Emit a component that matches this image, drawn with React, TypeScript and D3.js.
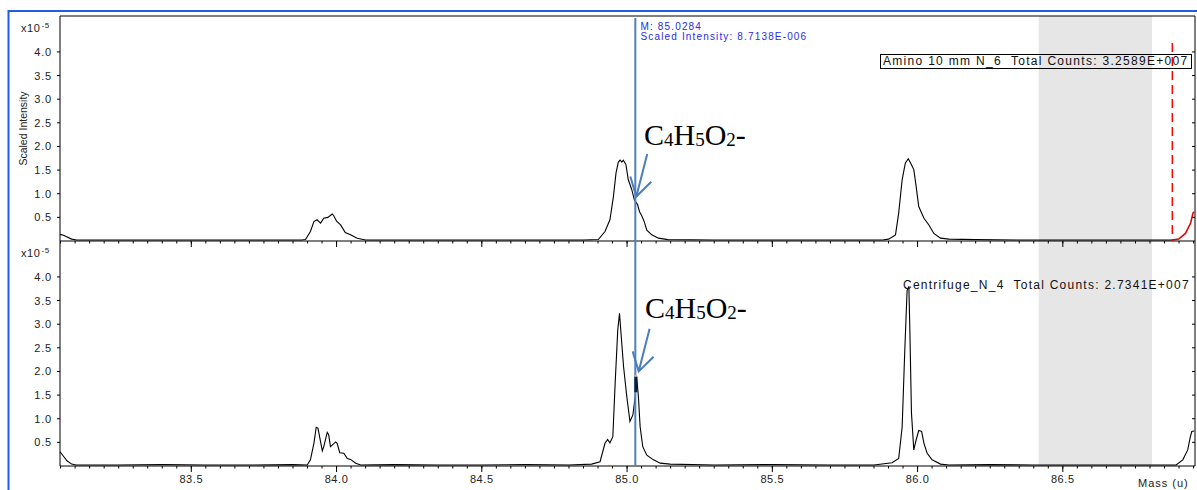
import React from 'react';
import * as d3 from 'd3';

// tick labels
const massTicks = [83.5, 84.0, 84.5, 85.0, 85.5, 86.0, 86.5];
const intensityTicks = [0.5, 1.0, 1.5, 2.0, 2.5, 3.0, 3.5, 4.0];

// [mass (u), scaled intensity x10^-5]
const aminoSpectrum: [number, number][] = [
  [83.048, 0.14], [83.06, 0.12], [83.071, 0.09], [83.088, 0.04], [83.105, 0.02], [83.2, 0.02],
  [83.35, 0.02], [83.5, 0.02], [83.65, 0.02], [83.8, 0.02], [83.88, 0.02], [83.893, 0.03],
  [83.91, 0.2], [83.922, 0.41], [83.933, 0.45], [83.945, 0.38], [83.956, 0.48], [83.97, 0.5],
  [83.985, 0.57], [83.99, 0.54], [84.0, 0.42], [84.014, 0.34], [84.03, 0.18], [84.048, 0.13],
  [84.071, 0.06], [84.1, 0.02], [84.25, 0.02], [84.4, 0.02], [84.55, 0.02], [84.7, 0.02],
  [84.85, 0.02], [84.901, 0.03], [84.924, 0.2], [84.941, 0.45], [84.953, 0.94], [84.962, 1.44],
  [84.97, 1.67], [84.976, 1.71], [84.982, 1.67], [84.987, 1.71], [84.996, 1.62], [85.004, 1.3],
  [85.016, 1.09], [85.025, 0.87], [85.036, 0.77], [85.043, 0.62], [85.051, 0.53], [85.059, 0.41],
  [85.068, 0.23], [85.085, 0.13], [85.108, 0.06], [85.14, 0.03], [85.3, 0.02], [85.5, 0.02],
  [85.7, 0.02], [85.88, 0.02], [85.9, 0.04], [85.924, 0.13], [85.935, 0.59], [85.947, 1.3],
  [85.958, 1.65], [85.968, 1.74], [85.976, 1.65], [85.987, 1.51], [85.995, 1.16], [86.004, 0.73],
  [86.022, 0.48], [86.039, 0.34], [86.056, 0.16], [86.079, 0.06], [86.108, 0.04], [86.2, 0.03],
  [86.35, 0.02], [86.5, 0.02], [86.65, 0.02], [86.8, 0.02], [86.877, 0.02], [86.899, 0.04],
  [86.922, 0.16], [86.94, 0.38], [86.948, 0.59], [86.952, 0.62],
];

const centrifugeSpectrum: [number, number][] = [
  [83.048, 0.3], [83.052, 0.27], [83.062, 0.19], [83.072, 0.11], [83.088, 0.04], [83.103, 0.02],
  [83.25, 0.02], [83.4, 0.03], [83.55, 0.02], [83.7, 0.02], [83.85, 0.03], [83.899, 0.02],
  [83.91, 0.13], [83.922, 0.48], [83.93, 0.82], [83.936, 0.8], [83.945, 0.51], [83.951, 0.32],
  [83.956, 0.41], [83.968, 0.71], [83.973, 0.66], [83.979, 0.41], [83.985, 0.44], [83.997, 0.51],
  [84.002, 0.48], [84.011, 0.28], [84.025, 0.27], [84.037, 0.16], [84.048, 0.14], [84.066, 0.06],
  [84.083, 0.02], [84.2, 0.03], [84.35, 0.02], [84.5, 0.02], [84.65, 0.03], [84.8, 0.02],
  [84.878, 0.04], [84.907, 0.09], [84.924, 0.48], [84.933, 0.56], [84.941, 0.49], [84.951, 0.62],
  [84.959, 1.75], [84.968, 2.88], [84.974, 3.23], [84.98, 2.74], [84.988, 2.1], [84.999, 1.47],
  [85.01, 0.94], [85.02, 1.08], [85.028, 1.47], [85.033, 1.89], [85.039, 1.47], [85.045, 0.83],
  [85.054, 0.41], [85.068, 0.23], [85.091, 0.13], [85.114, 0.06], [85.148, 0.04], [85.3, 0.02],
  [85.5, 0.03], [85.7, 0.02], [85.85, 0.02], [85.912, 0.07], [85.935, 0.16], [85.947, 0.83],
  [85.956, 2.45], [85.964, 3.72], [85.97, 3.8], [85.973, 3.02], [85.979, 1.12], [85.987, 0.34],
  [85.995, 0.55], [86.004, 0.75], [86.014, 0.73], [86.022, 0.48], [86.033, 0.27], [86.05, 0.13],
  [86.079, 0.04], [86.108, 0.02], [86.25, 0.03], [86.4, 0.02], [86.55, 0.02], [86.7, 0.02],
  [86.85, 0.02], [86.89, 0.02], [86.913, 0.13], [86.93, 0.34], [86.939, 0.62], [86.944, 0.73],
  [86.952, 0.74],
];

const markerMass = 85.0284;
const markerText = ['M: 85.0284', 'Scaled Intensity: 8.7138E-006'];
const highlightRange = [1.56, 1.89]; // selected peak segment, bottom panel
const excludedRange = [86.417, 86.807];
const cursorMass = 86.877;
const aminoLabel = 'Amino 10 mm N_6  Total Counts: 3.2589E+007';
const centrifugeLabel = 'Centrifuge_N_4  Total Counts: 2.7341E+007';
const arrowTargets = [0.94, 2.0]; // intensity the arrow points at, per panel

const W = 1197, H = 490;
const left = 60, right = 1195;
const topY = 16, midY = 241, botY = 466;
const uiFont = '"Liberation Sans", Arial, sans-serif';

const x = d3.scaleLinear().domain([83.048, 86.955]).range([left, right]);
const yTop = d3.scaleLinear().domain([0, 4.76]).range([midY, topY]);
const yBot = d3.scaleLinear().domain([0, 4.76]).range([botY, midY]);
const minorTicks = d3.range(1661, 1740).map(i => i / 20);

const Formula = ({ px, py }: { px: number; py: number }) => (
  <text x={px} y={py} fontFamily='"Liberation Serif", "Times New Roman", serif' fontSize={30} fill="#000">
    C<tspan fontSize={19} dy={1}>4</tspan>
    <tspan dy={-1}>H</tspan><tspan fontSize={19} dy={1}>5</tspan>
    <tspan dy={-1}>O</tspan><tspan fontSize={19} dy={1}>2</tspan>
    <tspan dy={-1}>-</tspan>
  </text>
);

// open arrow, shaft coming from upper right
const Arrow = ({ tx, ty }: { tx: number; ty: number }) => {
  const ang = Math.atan2(-43, 11);
  const len = 44, wing = 21, spread = (31 * Math.PI) / 180;
  const pt = (a: number, l: number) => [tx + l * Math.cos(a), ty + l * Math.sin(a)];
  const [sx, sy] = pt(ang, len);
  const [w1x, w1y] = pt(ang + spread, wing);
  const [w2x, w2y] = pt(ang - spread, wing);
  return (
    <path d={`M${sx},${sy}L${tx},${ty}M${w1x},${w1y}L${tx},${ty}L${w2x},${w2y}`}
      fill="none" stroke="#4a7ebb" strokeWidth={2} />
  );
};

const Panel = ({ y, data, redFrom }: { y: d3.ScaleLinear<number, number>; data: [number, number][]; redFrom?: number }) => {
  const line = d3.line<[number, number]>().x(d => x(d[0])).y(d => y(d[1]));
  const black = redFrom ? data.filter(d => d[0] <= redFrom) : data;
  const red = redFrom ? data.filter(d => d[0] >= redFrom) : [];
  const base = y(0);
  return (
    <g>
      {/* y ticks left and right */}
      {intensityTicks.map(t => (
        <g key={t}>
          <line x1={left - 3} x2={left} y1={y(t)} y2={y(t)} stroke="#000" />
          <line x1={right - 3} x2={right} y1={y(t)} y2={y(t)} stroke="#000" />
          <text x={52} y={y(t) + 4} textAnchor="end" fontFamily={uiFont} fontSize={11}
            letterSpacing={0.8} fill="#222">{t.toFixed(1)}</text>
        </g>
      ))}
      <text x={21} y={y.range()[1] + 16} fontFamily={uiFont} fontSize={11} letterSpacing={0.6} fill="#222">
        x10<tspan fontSize={8} dy={-4} dx={1}>-5</tspan>
      </text>
      {/* x ticks */}
      {minorTicks.map(t => (
        <line key={t} x1={x(t)} x2={x(t)} y1={base} y2={base + 2.5} stroke="#000" />
      ))}
      {massTicks.map(t => (
        <line key={t} x1={x(t)} x2={x(t)} y1={base} y2={base + 6} stroke="#000" />
      ))}
      <path d={line(black) || ''} fill="none" stroke="#000" strokeWidth={1.1} />
      {red.length > 0 && <path d={line(red) || ''} fill="none" stroke="#e00000" strokeWidth={1.5} />}
    </g>
  );
};

export default function App() {
  const mx = x(markerMass);
  return (
    <div style={{ position: 'absolute', left: 0, top: 0 }}>
      <svg width={W} height={H} style={{ display: 'block' }}>
        <rect width={W} height={H} fill="#fff" />
        {/* outer window frame */}
        <line x1={8} x2={W} y1={11} y2={11} stroke="#1f5fe6" strokeWidth={2} />
        <line x1={8.5} x2={8.5} y1={10} y2={H} stroke="#1f5fe6" strokeWidth={2} />

        <rect x={x(excludedRange[0])} width={x(excludedRange[1]) - x(excludedRange[0])}
          y={topY} height={botY - topY} fill="#e6e6e6" />

        <Panel y={yTop} data={aminoSpectrum} redFrom={cursorMass} />
        <Panel y={yBot} data={centrifugeSpectrum} />

        {/* frame of plot area */}
        <line x1={left} x2={right} y1={topY} y2={topY} stroke="#000" />
        <line x1={left} x2={right} y1={midY} y2={midY} stroke="#000" />
        <line x1={left} x2={right} y1={botY} y2={botY} stroke="#000" />
        <line x1={left} x2={left} y1={topY} y2={botY} stroke="#000" />
        <line x1={right} x2={right} y1={topY} y2={botY} stroke="#000" />

        {massTicks.map(t => (
          <text key={t} x={x(t)} y={483} textAnchor="middle" fontFamily={uiFont} fontSize={11}
            letterSpacing={0.6} fill="#222">{t.toFixed(1)}</text>
        ))}
        <text x={1138} y={487} fontFamily={uiFont} fontSize={11} letterSpacing={1} fill="#222">Mass (u)</text>

        <text transform={`translate(27,${(topY + midY) / 2}) rotate(-90)`} textAnchor="middle"
          fontFamily={uiFont} fontSize={10.5} fill="#222">Scaled Intensity</text>

        {/* cursor in top panel */}
        <line x1={x(cursorMass)} x2={x(cursorMass)} y1={43} y2={midY} stroke="#ff0000"
          strokeWidth={1.5} strokeDasharray="9,5" />

        {/* legends */}
        <rect x={880.5} y={54.5} width={311} height={14} fill="none" stroke="#000" />
        <text x={883} y={64.5} fontFamily={uiFont} fontSize={12} letterSpacing={1.3} fill="#111"
          style={{ whiteSpace: 'pre' }}>{aminoLabel}</text>
        <text x={903} y={289} fontFamily={uiFont} fontSize={12} letterSpacing={1.25} fill="#111"
          style={{ whiteSpace: 'pre' }}>{centrifugeLabel}</text>

        {/* selected mass marker */}
        <line x1={mx} x2={mx} y1={18} y2={botY} stroke="#4f81bd" strokeWidth={2} />
        <line x1={mx + 0.5} x2={mx + 0.5} y1={yBot(highlightRange[0])} y2={yBot(highlightRange[1])}
          stroke="#0d1f3c" strokeWidth={3} />
        <circle cx={mx + 0.5} cy={yBot(highlightRange[1]) - 1} r={1.2} fill="#f5a65b" />
        {markerText.map((t, i) => (
          <text key={t} x={640.5} y={29.5 + i * 10} fontFamily={uiFont} fontSize={10}
            letterSpacing={1.15} fill="#2a2ae6">{t}</text>
        ))}

        <Formula px={644} py={145} />
        <Formula px={645} py={318} />
        <Arrow tx={x(85.0319)} ty={yTop(arrowTargets[0])} />
        <Arrow tx={x(85.04)} ty={yBot(arrowTargets[1])} />
      </svg>
    </div>
  );
}
